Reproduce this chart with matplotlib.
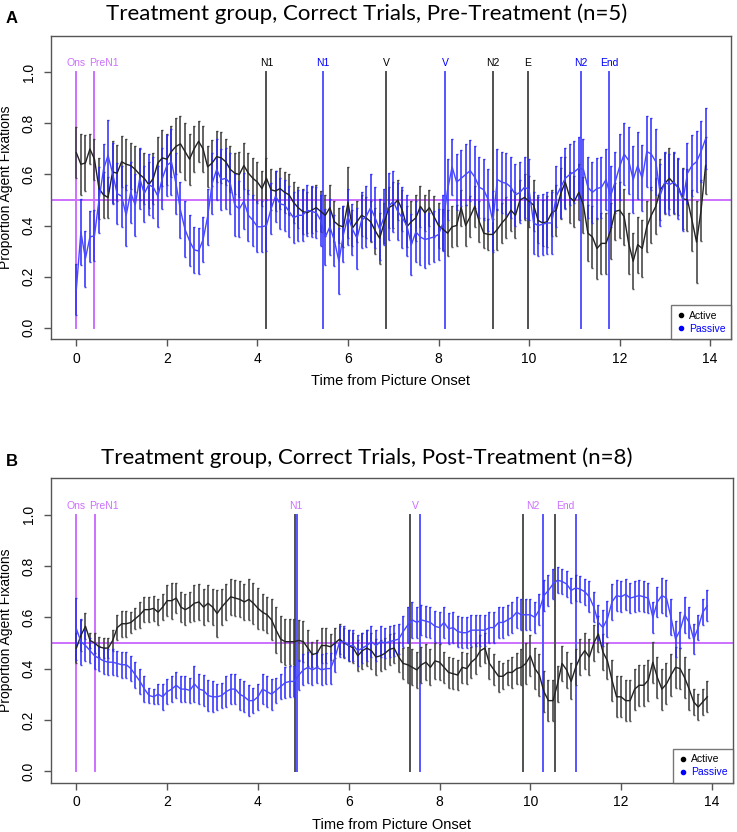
import numpy as np
import matplotlib.pyplot as plt
from matplotlib.lines import Line2D

# time bins (s from picture onset), one value per 100 ms
t = np.round(np.arange(140) * 0.1, 1)

# ---- panel A: pre-treatment (n=5) ----
active_pre = [
    0.685, 0.64, 0.645, 0.70, 0.66, 0.545, 0.52, 0.51, 0.61, 0.605,
    0.65, 0.64, 0.635, 0.62, 0.60, 0.585, 0.56, 0.585, 0.645, 0.665,
    0.66, 0.69, 0.71, 0.72, 0.69, 0.66, 0.70, 0.73, 0.70, 0.63,
    0.645, 0.67, 0.665, 0.65, 0.62, 0.605, 0.60, 0.635, 0.605, 0.585,
    0.57, 0.545, 0.585, 0.54, 0.535, 0.545, 0.53, 0.52, 0.49, 0.47,
    0.455, 0.45, 0.46, 0.47, 0.455, 0.44, 0.47, 0.415, 0.40, 0.395,
    0.49, 0.39, 0.415, 0.44, 0.43, 0.415, 0.38, 0.35, 0.41, 0.47,
    0.48, 0.50, 0.46, 0.395, 0.415, 0.43, 0.475, 0.45, 0.47, 0.435,
    0.40, 0.385, 0.37, 0.395, 0.40, 0.47, 0.40, 0.435, 0.475, 0.415,
    0.37, 0.365, 0.365, 0.385, 0.41, 0.43, 0.46, 0.44, 0.50, 0.51,
    0.495, 0.48, 0.42, 0.41, 0.415, 0.45, 0.46, 0.525, 0.57, 0.51,
    0.495, 0.53, 0.48, 0.37, 0.355, 0.31, 0.33, 0.33, 0.38, 0.455,
    0.46, 0.435, 0.33, 0.26, 0.325, 0.31, 0.395, 0.44, 0.475, 0.54,
    0.565, 0.585, 0.565, 0.55, 0.505, 0.50, 0.42, 0.335, 0.46, 0.635,
]
active_pre_se = [
    0.10, 0.12, 0.11, 0.06, 0.08, 0.12, 0.09, 0.08, 0.12, 0.11,
    0.10, 0.10, 0.09, 0.09, 0.10, 0.10, 0.09, 0.10, 0.10, 0.11,
    0.10, 0.10, 0.11, 0.11, 0.11, 0.10, 0.09, 0.08, 0.09, 0.08,
    0.09, 0.10, 0.10, 0.09, 0.09, 0.08, 0.09, 0.09, 0.08, 0.08,
    0.08, 0.07, 0.08, 0.08, 0.08, 0.08, 0.08, 0.08, 0.08, 0.08,
    0.09, 0.08, 0.09, 0.09, 0.08, 0.08, 0.09, 0.08, 0.07, 0.08,
    0.14, 0.07, 0.08, 0.08, 0.08, 0.08, 0.09, 0.10, 0.08, 0.08,
    0.09, 0.08, 0.08, 0.08, 0.08, 0.09, 0.08, 0.07, 0.07, 0.08,
    0.09, 0.08, 0.09, 0.08, 0.08, 0.07, 0.08, 0.08, 0.08, 0.08,
    0.06, 0.06, 0.06, 0.08, 0.08, 0.08, 0.08, 0.09, 0.08, 0.09,
    0.10, 0.10, 0.09, 0.09, 0.10, 0.09, 0.10, 0.10, 0.10, 0.10,
    0.10, 0.11, 0.11, 0.11, 0.12, 0.12, 0.12, 0.12, 0.11, 0.11,
    0.11, 0.11, 0.12, 0.11, 0.11, 0.11, 0.10, 0.11, 0.11, 0.12,
    0.12, 0.12, 0.12, 0.11, 0.12, 0.12, 0.12, 0.16, 0.12, 0.11,
]
passive_pre = [
    0.15, 0.375, 0.27, 0.355, 0.36, 0.50, 0.62, 0.675, 0.605, 0.525,
    0.515, 0.44, 0.53, 0.48, 0.585, 0.525, 0.56, 0.55, 0.515, 0.585,
    0.635, 0.65, 0.565, 0.46, 0.385, 0.34, 0.305, 0.30, 0.345, 0.435,
    0.565, 0.62, 0.58, 0.585, 0.565, 0.48, 0.465, 0.495, 0.44, 0.42,
    0.395, 0.395, 0.40, 0.465, 0.515, 0.485, 0.48, 0.455, 0.43, 0.44,
    0.44, 0.46, 0.455, 0.45, 0.42, 0.355, 0.395, 0.34, 0.26, 0.365,
    0.435, 0.385, 0.35, 0.42, 0.435, 0.47, 0.43, 0.385, 0.435, 0.475,
    0.495, 0.455, 0.43, 0.40, 0.325, 0.375, 0.355, 0.345, 0.35, 0.355,
    0.365, 0.41, 0.54, 0.63, 0.57, 0.585, 0.60, 0.615, 0.59, 0.55,
    0.54, 0.50, 0.415, 0.58, 0.57, 0.565, 0.55, 0.52, 0.53, 0.55,
    0.54, 0.41, 0.40, 0.405, 0.41, 0.41, 0.515, 0.55, 0.585, 0.60,
    0.61, 0.625, 0.62, 0.55, 0.53, 0.545, 0.55, 0.58, 0.515, 0.57,
    0.63, 0.68, 0.655, 0.58, 0.635, 0.585, 0.69, 0.68, 0.65, 0.52,
    0.57, 0.56, 0.57, 0.545, 0.50, 0.605, 0.635, 0.65, 0.69, 0.74,
]
passive_pre_se = [
    0.10, 0.13, 0.11, 0.10, 0.10, 0.13, 0.10, 0.14, 0.12, 0.12,
    0.12, 0.12, 0.12, 0.12, 0.12, 0.11, 0.12, 0.12, 0.12, 0.12,
    0.12, 0.13, 0.12, 0.11, 0.11, 0.10, 0.09, 0.09, 0.09, 0.11,
    0.12, 0.12, 0.12, 0.12, 0.12, 0.12, 0.11, 0.11, 0.10, 0.10,
    0.10, 0.10, 0.10, 0.10, 0.10, 0.10, 0.10, 0.10, 0.10, 0.10,
    0.10, 0.10, 0.10, 0.10, 0.10, 0.11, 0.11, 0.10, 0.13, 0.11,
    0.11, 0.10, 0.12, 0.11, 0.12, 0.13, 0.12, 0.12, 0.11, 0.13,
    0.12, 0.11, 0.12, 0.12, 0.12, 0.12, 0.11, 0.11, 0.10, 0.10,
    0.10, 0.11, 0.12, 0.11, 0.11, 0.11, 0.12, 0.12, 0.12, 0.12,
    0.12, 0.12, 0.12, 0.12, 0.12, 0.12, 0.12, 0.12, 0.12, 0.12,
    0.12, 0.12, 0.12, 0.12, 0.12, 0.12, 0.12, 0.12, 0.12, 0.12,
    0.12, 0.12, 0.12, 0.12, 0.12, 0.12, 0.12, 0.12, 0.12, 0.12,
    0.13, 0.12, 0.13, 0.13, 0.13, 0.13, 0.14, 0.14, 0.13, 0.12,
    0.12, 0.12, 0.12, 0.12, 0.12, 0.12, 0.12, 0.12, 0.12, 0.12,
]

# ---- panel B: post-treatment (n=8) ----
active_post = [
    0.48, 0.53, 0.565, 0.51, 0.50, 0.485, 0.48, 0.48, 0.51, 0.56,
    0.575, 0.575, 0.58, 0.595, 0.61, 0.63, 0.63, 0.635, 0.62, 0.64,
    0.665, 0.665, 0.675, 0.64, 0.63, 0.64, 0.655, 0.66, 0.64, 0.655,
    0.64, 0.615, 0.64, 0.66, 0.68, 0.675, 0.67, 0.66, 0.67, 0.655,
    0.635, 0.62, 0.61, 0.59, 0.55, 0.515, 0.505, 0.505, 0.505, 0.51,
    0.505, 0.48, 0.455, 0.46, 0.49, 0.49, 0.485, 0.50, 0.515, 0.50,
    0.49, 0.48, 0.45, 0.47, 0.48, 0.47, 0.445, 0.45, 0.46, 0.475,
    0.48, 0.445, 0.42, 0.415, 0.405, 0.395, 0.415, 0.425, 0.405, 0.43,
    0.425, 0.405, 0.385, 0.38, 0.375, 0.405, 0.40, 0.425, 0.44, 0.47,
    0.48, 0.42, 0.395, 0.37, 0.37, 0.385, 0.385, 0.40, 0.405, 0.42,
    0.45, 0.40, 0.375, 0.31, 0.275, 0.275, 0.34, 0.42, 0.395, 0.35,
    0.405, 0.445, 0.47, 0.445, 0.50, 0.535, 0.465, 0.43, 0.355, 0.29,
    0.29, 0.275, 0.275, 0.32, 0.335, 0.335, 0.355, 0.425, 0.365, 0.32,
    0.34, 0.375, 0.405, 0.40, 0.365, 0.32, 0.27, 0.25, 0.27, 0.29,
]
active_post_se = [
    0.06, 0.06, 0.05, 0.03, 0.04, 0.04, 0.04, 0.04, 0.04, 0.05,
    0.05, 0.05, 0.04, 0.04, 0.05, 0.05, 0.05, 0.05, 0.05, 0.05,
    0.06, 0.07, 0.06, 0.06, 0.06, 0.06, 0.07, 0.07, 0.07, 0.07,
    0.07, 0.09, 0.07, 0.07, 0.07, 0.07, 0.07, 0.07, 0.08, 0.08,
    0.08, 0.07, 0.07, 0.08, 0.09, 0.09, 0.09, 0.09, 0.09, 0.08,
    0.08, 0.07, 0.05, 0.05, 0.07, 0.07, 0.05, 0.06, 0.06, 0.06,
    0.06, 0.06, 0.06, 0.07, 0.07, 0.07, 0.07, 0.06, 0.06, 0.06,
    0.06, 0.06, 0.06, 0.07, 0.07, 0.07, 0.07, 0.07, 0.07, 0.07,
    0.07, 0.06, 0.06, 0.06, 0.06, 0.06, 0.06, 0.06, 0.06, 0.06,
    0.06, 0.06, 0.06, 0.06, 0.05, 0.05, 0.06, 0.06, 0.07, 0.08,
    0.08, 0.08, 0.08, 0.08, 0.08, 0.08, 0.07, 0.07, 0.07, 0.07,
    0.07, 0.07, 0.07, 0.07, 0.07, 0.07, 0.07, 0.07, 0.08, 0.08,
    0.08, 0.08, 0.08, 0.08, 0.08, 0.08, 0.08, 0.08, 0.08, 0.08,
    0.08, 0.08, 0.08, 0.08, 0.08, 0.08, 0.05, 0.05, 0.05, 0.06,
]
passive_post = [
    0.555, 0.505, 0.49, 0.47, 0.45, 0.44, 0.43, 0.425, 0.425, 0.42,
    0.415, 0.415, 0.40, 0.375, 0.35, 0.32, 0.295, 0.29, 0.30, 0.29,
    0.31, 0.32, 0.335, 0.32, 0.32, 0.315, 0.34, 0.32, 0.315, 0.295,
    0.29, 0.29, 0.295, 0.31, 0.32, 0.32, 0.30, 0.29, 0.275, 0.275,
    0.29, 0.32, 0.31, 0.30, 0.315, 0.33, 0.345, 0.35, 0.35, 0.375,
    0.395, 0.405, 0.395, 0.405, 0.395, 0.40, 0.40, 0.445, 0.505, 0.505,
    0.49, 0.49, 0.47, 0.48, 0.49, 0.505, 0.49, 0.505, 0.50, 0.505,
    0.51, 0.515, 0.545, 0.57, 0.59, 0.58, 0.59, 0.585, 0.58, 0.565,
    0.56, 0.58, 0.555, 0.56, 0.545, 0.54, 0.54, 0.55, 0.55, 0.55,
    0.55, 0.56, 0.56, 0.58, 0.58, 0.59, 0.60, 0.62, 0.61, 0.61,
    0.61, 0.60, 0.63, 0.685, 0.705, 0.73, 0.745, 0.74, 0.73, 0.705,
    0.715, 0.71, 0.70, 0.68, 0.64, 0.58, 0.56, 0.595, 0.66, 0.685,
    0.68, 0.69, 0.675, 0.68, 0.685, 0.68, 0.675, 0.60, 0.66, 0.685,
    0.675, 0.60, 0.515, 0.55, 0.61, 0.58, 0.515, 0.56, 0.62, 0.645,
]
passive_post_se = [
    0.12, 0.09, 0.06, 0.05, 0.05, 0.05, 0.05, 0.05, 0.05, 0.05,
    0.05, 0.05, 0.05, 0.05, 0.05, 0.05, 0.03, 0.03, 0.04, 0.05,
    0.05, 0.05, 0.05, 0.05, 0.05, 0.05, 0.07, 0.06, 0.06, 0.06,
    0.06, 0.05, 0.05, 0.06, 0.06, 0.06, 0.06, 0.06, 0.06, 0.05,
    0.05, 0.06, 0.06, 0.06, 0.05, 0.05, 0.06, 0.06, 0.06, 0.06,
    0.06, 0.06, 0.06, 0.06, 0.06, 0.06, 0.06, 0.06, 0.06, 0.06,
    0.06, 0.06, 0.06, 0.06, 0.06, 0.06, 0.06, 0.06, 0.06, 0.06,
    0.06, 0.06, 0.06, 0.07, 0.07, 0.06, 0.06, 0.06, 0.06, 0.06,
    0.06, 0.06, 0.06, 0.06, 0.06, 0.06, 0.06, 0.06, 0.06, 0.06,
    0.06, 0.06, 0.06, 0.06, 0.06, 0.06, 0.06, 0.06, 0.06, 0.06,
    0.06, 0.06, 0.06, 0.06, 0.06, 0.06, 0.05, 0.05, 0.05, 0.05,
    0.05, 0.05, 0.05, 0.06, 0.06, 0.07, 0.07, 0.07, 0.07, 0.06,
    0.06, 0.06, 0.06, 0.06, 0.06, 0.06, 0.06, 0.06, 0.06, 0.07,
    0.07, 0.07, 0.07, 0.07, 0.07, 0.06, 0.06, 0.05, 0.05, 0.06,
]

# sentence region markers (seconds)
onset_labels = ['Ons', 'PreN1']
onset_times = [0.0, 0.4]
onset_label_x = [0.0, 0.6]

pre_labels = ['N1', 'V', 'N2', 'E']
pre_active_times = [4.2, 6.84, 9.21, 9.97]
pre_passive_labels = ['N1', 'V', 'N2', 'End']
pre_passive_times = [5.45, 8.15, 11.15, 11.77]

post_labels = ['N1', 'V', 'N2', 'End']
post_active_times = [4.81, 7.35, 9.85, 10.54]
post_passive_times = [4.86, 7.58, 10.28, 11.0]

TITLES = ['Treatment group, Correct Trials, Pre-Treatment (n=5)',
          'Treatment group, Correct Trials, Post-Treatment (n=8)']

C_ACT = '#222222'
C_ACT_BAR = '#3a3a3a'
C_PAS = '#4848ff'
C_PAS_BAR = '#2a2aff'
C_ACT_EV = '#505050'
C_PAS_EV = '#5555ff'
C_MAG = '#cc70ff'

plt.rcParams['font.family'] = ['Liberation Sans', 'DejaVu Sans']

fig = plt.figure(figsize=(7.37, 8.32), dpi=100)
ax_a = fig.add_axes([0.0692, 0.5925, 0.9226, 0.364])
ax_b = fig.add_axes([0.0692, 0.0593, 0.925, 0.3657])


def draw_series(ax, y, se, col, bar_col):
    ax.errorbar(t, y, yerr=se, fmt='none', ecolor=bar_col, elinewidth=1.3,
                capsize=1.0, capthick=1.0, alpha=0.85, zorder=3)
    ax.plot(t, y, color=col, lw=1.0, zorder=4)


def vline(ax, x, col):
    ax.plot([x, x], [0, 1.0], color=col, lw=1.4, zorder=2)


def style_axes(ax, title, tag, title_y, tag_y):
    ax.set_xlim(-0.56, 14.46)
    ax.set_ylim(-0.045, 1.142)
    ax.set_xticks(np.arange(0, 15, 2))
    ax.set_yticks(np.arange(0, 1.01, 0.2))
    ax.set_yticklabels(['%.1f' % v for v in np.arange(0, 1.01, 0.2)],
                       rotation=90, va='center')
    ax.tick_params(direction='out', length=5, width=1, color='#555555',
                   labelsize=10)
    ax.tick_params(axis='x', pad=4)
    ax.tick_params(axis='y', pad=6)
    for sp in ax.spines.values():
        sp.set_color('#555555')
        sp.set_linewidth(1.0)
    ax.set_xlabel('Time from Picture Onset', fontsize=10.5)
    ax.set_ylabel('Proportion Agent Fixations', fontsize=10)
    ax.xaxis.set_label_coords(0.5, -0.115)
    ax.yaxis.set_label_coords(-0.056, 0.5)
    fig.text(0.497, title_y, title, ha='center', va='center', fontsize=16,
             family=['Lato', 'DejaVu Sans'])
    fig.text(0.016, tag_y, tag, ha='center', va='center', fontsize=12,
             fontweight='bold')

    ax.axhline(0.5, color=C_MAG, lw=1.4, zorder=2)
    for lab, x, lx in zip(onset_labels, onset_times, onset_label_x):
        vline(ax, x, C_MAG)
        ax.text(lx, 1.035, lab, color=C_MAG, fontsize=7.5, ha='center', va='center')

    handles = [Line2D([], [], ls='none', marker='o', ms=3, color='black'),
               Line2D([], [], ls='none', marker='o', ms=3, color='blue')]
    leg = ax.legend(handles, ['Active', 'Passive'], loc='lower right',
                    fontsize=7.5, frameon=True, fancybox=False,
                    borderaxespad=0, handlelength=0.8, handletextpad=0.4,
                    borderpad=0.5, labelspacing=0.3,
                    labelcolor=['black', 'blue'])
    leg.get_frame().set_edgecolor('#555555')
    leg.get_frame().set_linewidth(1.0)


# panel A
style_axes(ax_a, TITLES[0], 'A', 0.984, 0.978)
for lab, x in zip(pre_labels, pre_active_times):
    vline(ax_a, x, C_ACT_EV)
    ax_a.text(x, 1.035, lab, color='black', fontsize=7.5, ha='center', va='center')
for lab, x in zip(pre_passive_labels, pre_passive_times):
    vline(ax_a, x, C_PAS_EV)
    ax_a.text(x, 1.035, lab, color='blue', fontsize=7.5, ha='center', va='center')
draw_series(ax_a, active_pre, active_pre_se, C_ACT, C_ACT_BAR)
draw_series(ax_a, passive_pre, passive_pre_se, C_PAS, C_PAS_BAR)

# panel B
style_axes(ax_b, TITLES[1], 'B', 0.4495, 0.445)
for lab, xa, xp in zip(post_labels, post_active_times, post_passive_times):
    vline(ax_b, xa, C_ACT_EV)
    vline(ax_b, xp, C_PAS_EV)
    ax_b.text((xa + xp) / 2, 1.035, lab, color=C_MAG, fontsize=7.5,
              ha='center', va='center')
draw_series(ax_b, active_post, active_post_se, C_ACT, C_ACT_BAR)
draw_series(ax_b, passive_post, passive_post_se, C_PAS, C_PAS_BAR)

fig.savefig('out.png', dpi=100)
